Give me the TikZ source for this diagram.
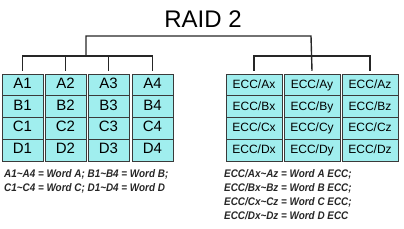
\documentclass[tikz,border=0pt]{standalone}
\usepackage{fontspec}
\setmainfont{Liberation Sans}
\newfontfamily\notefont{Liberation Sans}[FakeStretch=0.9]
\usetikzlibrary{positioning}
\definecolor{cellFill}{HTML}{A0EEEE}
\definecolor{cellLine}{HTML}{3A3A3A}
\newcommand{\tl}{\char`\~}

\begin{document}
\begin{tikzpicture}[x=1pt,y=-1pt,
  cell/.style={draw=cellLine,thick,fill=cellFill,minimum width=41pt,minimum height=21.7pt,inner sep=0pt,
    text height=0.72em,text depth=0.05em,font=\fontsize{15}{15}\selectfont},
  ecc/.style={cell,minimum width=56pt,font=\fontsize{12}{12}\selectfont},
  tree/.style={line width=1.4pt,black!85},
  note/.style={anchor=base west,inner sep=0pt,text=black!85,font=\notefont\fontsize{11}{11}\selectfont\bfseries\itshape}
]
\useasboundingbox (0,0) rectangle (404,228);
\node[anchor=base,inner sep=0pt,font=\fontsize{24}{24}\selectfont] (title) at (203,27) {RAID 2};
% data disks
\foreach \c/\x in {1/22.5,2/65.5,3/108.5,4/152.5}
  \foreach \r/\y/\l in {1/85/A,2/106.7/B,3/128.4/C,4/150.1/D}
    \node[cell] (\l\c) at (\x,\y) {\l\c};
% ecc disks
\foreach \c/\x in {x/254,y/312,z/370}
  \foreach \r/\y/\l in {1/85/A,2/106.7/B,3/128.4/C,4/150.1/D}
    \node[ecc] (E\l\c) at (\x,\y) {ECC/\l\c};
% tree
\coordinate (topl) at (86,36);
\coordinate (topr) at (311,36);
\coordinate (ljoin) at (86,56);
\coordinate (rjoin) at (311,56);
\draw[tree] (ljoin) -- (topl) -- (topr) -- ([yshift=3pt]EAy.north);
\draw[tree] ([yshift=3pt]A1.north) |- (ljoin) -| ([yshift=3pt]A4.north);
\draw[tree] (ljoin -| A2) -- ([yshift=3pt]A2.north);
\draw[tree] (ljoin -| A3) -- ([yshift=3pt]A3.north);
\draw[tree] ([yshift=3pt]EAx.north) |- (rjoin) -| ([yshift=3pt]EAz.north);
% legend
\node[note] (n1) at (4,177) {A1\tl A4 = Word A; B1\tl B4 = Word B;};
\node[note] (n2) at (4,191) {C1\tl C4 = Word C; D1\tl D4 = Word D};
\node[note] (n3) at (224,177) {ECC/Ax\tl Az = Word A ECC;};
\node[note] (n4) at (224,191) {ECC/Bx\tl Bz = Word B ECC;};
\node[note] (n5) at (224,205) {ECC/Cx\tl Cz = Word C ECC;};
\node[note] (n6) at (224,219) {ECC/Dx\tl Dz = Word D ECC};
\end{tikzpicture}
\end{document}
